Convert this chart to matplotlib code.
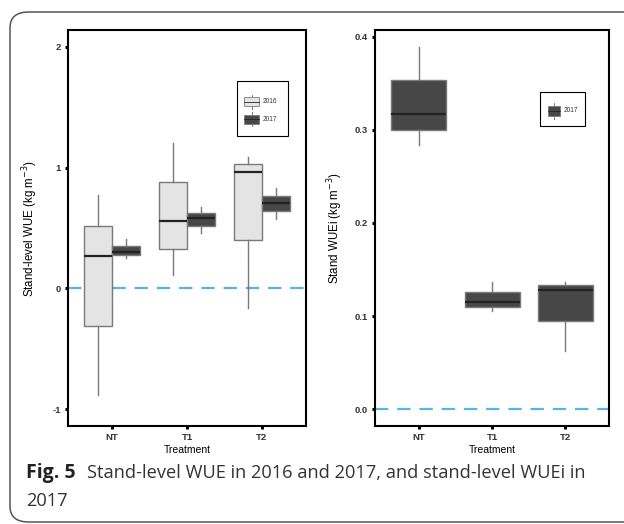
import matplotlib
matplotlib.use("Agg")
import matplotlib.pyplot as plt
from matplotlib.patches import FancyBboxPatch, Rectangle
from matplotlib.lines import Line2D

plt.rcParams["font.family"] = ["Liberation Sans", "DejaVu Sans"]

# data
treatments = ["NT", "T1", "T2"]
# stand-level WUE, 2016 and 2017: lower whisker, Q1, median, Q3, upper whisker
wue_2016 = [[-0.88, -0.31, 0.27, 0.52, 0.77],
            [0.11, 0.33, 0.56, 0.88, 1.20],
            [-0.16, 0.40, 0.96, 1.03, 1.09]]
wue_2017 = [[0.255, 0.276, 0.305, 0.351, 0.407],
            [0.456, 0.515, 0.581, 0.625, 0.670],
            [0.578, 0.639, 0.703, 0.766, 0.832]]
# stand WUEi 2017
wuei_2017 = [[0.284, 0.300, 0.317, 0.353, 0.389],
             [0.105, 0.110, 0.115, 0.126, 0.137],
             [0.062, 0.095, 0.128, 0.133, 0.137]]
years = ["2016", "2017"]

light = "#e4e4e4"
dark = "#474747"
edge = "#7a7a7a"
blue = "#56b4e9"

W, H = 624, 524


def stats(rows):
    return [dict(whislo=r[0], q1=r[1], med=r[2], q3=r[3], whishi=r[4]) for r in rows]


def fx(px):
    return px / W


def fy(py):
    return 1 - py / H


def style(ax):
    for s in ax.spines.values():
        s.set_linewidth(1.5)
        s.set_color("black")
    ax.tick_params(length=2.5, width=2.2, labelsize=6.8, labelcolor="#333333", pad=2.5)
    for lab in ax.get_xticklabels() + ax.get_yticklabels():
        lab.set_fontweight("bold")


def legend_box(x0, y0, x1, y1, keys):
    # ggplot-style legend with little boxplot keys (pixel positions)
    fig.patches.append(Rectangle((fx(x0), fy(y1)), fx(x1) - fx(x0), fy(y0) - fy(y1),
                                 transform=fig.transFigure, fc="white", ec="black", lw=0.8, zorder=5))
    for cx, cy, bw, bh, wh, fc, lab in keys:
        fig.lines.append(Line2D([fx(cx), fx(cx)], [fy(cy - wh), fy(cy + wh)],
                                transform=fig.transFigure, color=edge, lw=0.7, zorder=6))
        fig.patches.append(Rectangle((fx(cx - bw / 2), fy(cy + bh / 2)), bw / W, bh / H,
                                     transform=fig.transFigure, fc=fc, ec=edge, lw=0.6, zorder=7))
        fig.lines.append(Line2D([fx(cx - bw / 2), fx(cx + bw / 2)], [fy(cy), fy(cy)],
                                transform=fig.transFigure, color="#222222", lw=0.6, zorder=8))
        fig.text(fx(cx + bw / 2 + 4), fy(cy), lab, fontsize=4.7, va="center", ha="left",
                 color="#333333", zorder=8)


fig = plt.figure(figsize=(W / 100, H / 100), dpi=100)

# outer rounded frame
fig.patches.append(FancyBboxPatch((fx(10), fy(522)), 640 / W, 510 / H,
                                  boxstyle="round,pad=0,rounding_size=0.03",
                                  transform=fig.transFigure, fc="none", ec="#555555", lw=1.1))

pos = [1, 2, 3]
common = dict(showfliers=False, patch_artist=True, showcaps=False,
              medianprops=dict(color="#222222", lw=1.6),
              whiskerprops=dict(color=edge, lw=1.0))

ax1 = fig.add_axes([fx(68), fy(426), 238 / W, 396 / H])
ax1.bxp(stats(wue_2016), positions=[p - 0.19 for p in pos], widths=0.375,
        boxprops=dict(facecolor=light, edgecolor=edge, lw=1.0), **common)
ax1.bxp(stats(wue_2017), positions=[p + 0.19 for p in pos], widths=0.375,
        boxprops=dict(facecolor=dark, edgecolor=edge, lw=1.0), **common)
ax1.axhline(0, color=blue, lw=1.6, ls=(0, (6, 4)), zorder=0)
ax1.set_xlim(0.41, 3.59)
ax1.set_ylim(-1.14, 2.14)
ax1.set_yticks([-1, 0, 1, 2])
ax1.set_yticklabels(["-1", "0", "1", "2"])
ax1.set_xticks(pos)
ax1.set_xticklabels(treatments)
ax1.set_xlabel("Treatment", fontsize=7.5, labelpad=2)
ax1.set_ylabel("Stand-level WUE (kg m$^{-3}$)", fontsize=8.3)
ax1.yaxis.set_label_coords((40 - 68) / 238, 0.5)
style(ax1)

ax2 = fig.add_axes([fx(375), fy(426), 234 / W, 396 / H])
ax2.bxp(stats(wuei_2017), positions=pos, widths=0.75,
        boxprops=dict(facecolor=dark, edgecolor=edge, lw=1.0), **common)
ax2.axhline(0, color=blue, lw=1.6, ls=(0, (6, 4)), zorder=0)
ax2.set_xlim(0.4, 3.595)
ax2.set_ylim(-0.018, 0.407)
ax2.set_yticks([0, 0.1, 0.2, 0.3, 0.4])
ax2.set_yticklabels(["0.0", "0.1", "0.2", "0.3", "0.4"])
ax2.set_xticks(pos)
ax2.set_xticklabels(treatments)
ax2.set_xlabel("Treatment", fontsize=7.5, labelpad=2)
ax2.set_ylabel("Stand WUEi (kg m$^{-3}$)", fontsize=8.3)
ax2.yaxis.set_label_coords((345 - 375) / 234, 0.5)
style(ax2)

legend_box(236.7, 81, 288, 136, [(251.5, 101.7, 15, 9, 7, light, years[0]),
                                 (251.5, 119.3, 15, 9, 7, dark, years[1])])
legend_box(540, 91.7, 585, 125.7, [(553.5, 111, 12, 10, 8, dark, years[1])])

# caption
fig.text(fx(26), fy(473), "Fig. 5", fontsize=14, fontweight="bold",
         family="Open Sans", va="center", color="#222222")
cap = fig.text(fx(87), fy(473), "Stand-level WUE in 2016 and 2017, and stand-level WUEi in",
               fontsize=13, family="Open Sans", va="center", color="#333333")
# fit caption width to the reference span
r = fig.canvas.get_renderer()
w = cap.get_window_extent(r).width
cap.set_fontsize(13 * 496 / w)
fig.text(fx(26), fy(501.5), "2017", fontsize=cap.get_fontsize(), family="Open Sans",
         va="center", color="#333333")

fig.savefig("out.png", dpi=100)
